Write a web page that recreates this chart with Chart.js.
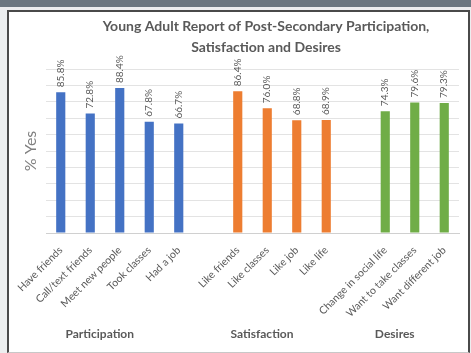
<!DOCTYPE html>
<html>
<head>
<meta charset="utf-8">
<script src="https://cdn.jsdelivr.net/npm/chart.js@4"></script>
<style>
  html, body { margin: 0; padding: 0; }
  body { width: 471px; height: 353px; background: #eceeef; position: relative; overflow: hidden; }
  #band { position: absolute; left: 0; top: 0; width: 471px; height: 7px; background: #6b7780; }
  #panel { position: absolute; left: 7px; top: 10px; width: 459px; height: 340px;
           background: #fff; border: 2px solid #4a4a4a; border-bottom: 1px solid #c8c8c8; }
  #chart-canvas { display: block; }
</style>
</head>
<body>
<div id="band"></div>
<div id="panel">
  <canvas id="chart-canvas" width="459" height="340"></canvas>
</div>
<script>
const chart = document.querySelector('#chart-canvas');

// categories (empty strings are the gaps between groups)
const categories = [
  'Have friends', 'Call/text friends', 'Meet new people', 'Took classes', 'Had a job', '',
  'Like friends', 'Like classes', 'Like job', 'Like life', '',
  'Change in social life', 'Want to take classes', 'Want different job'
];
const percentYes = [85.8, 72.8, 88.4, 67.8, 66.7, null, 86.4, 76.0, 68.8, 68.9, null, 74.3, 79.6, 79.3];
const barColors = [
  '#4472c4', '#4472c4', '#4472c4', '#4472c4', '#4472c4', '#fff',
  '#ed7d31', '#ed7d31', '#ed7d31', '#ed7d31', '#fff',
  '#70ad47', '#70ad47', '#70ad47'
];
const groupNames = ['Participation', 'Satisfaction', 'Desires'];
const groupFirst = [0, 6, 11];
const groupLast = [4, 9, 13];
const titleLines = ['Young Adult Report of Post-Secondary Participation,', 'Satisfaction and Desires'];

const textGray = '#595959';

// value labels, written upwards above each bar
const barLabels = {
  id: 'barLabels',
  afterDatasetsDraw(c) {
    const ctx = c.ctx;
    const meta = c.getDatasetMeta(0);
    ctx.save();
    ctx.font = '10px Lato';
    ctx.fillStyle = textGray;
    ctx.textAlign = 'left';
    ctx.textBaseline = 'middle';
    meta.data.forEach((bar, i) => {
      const v = percentYes[i];
      if (v === null) return;
      ctx.save();
      ctx.translate(bar.x, bar.y - 5);
      ctx.rotate(-Math.PI / 2);
      ctx.fillText(v.toFixed(1) + '%', 0, 0);
      ctx.restore();
    });
    ctx.restore();
  }
};

// chart title and the group names under the axis
const extraText = {
  id: 'extraText',
  afterDraw(c) {
    const ctx = c.ctx;
    const xs = c.scales.x;
    ctx.save();
    ctx.fillStyle = textGray;
    ctx.textAlign = 'center';
    ctx.textBaseline = 'middle';
    ctx.font = 'bold 14px Lato';
    ctx.fillText(titleLines[0], 257, 14);
    ctx.fillText(titleLines[1], 257, 35);

    ctx.font = 'bold 12px Lato';
    groupNames.forEach((name, g) => {
      const mid = (xs.getPixelForValue(groupFirst[g]) + xs.getPixelForValue(groupLast[g])) / 2;
      ctx.fillText(name, mid - 20, 322);
    });
    ctx.restore();
  }
};

let chartObject = new Chart(chart, {
  type: 'bar',
  data: {
    labels: categories,
    datasets: [{
      label: '% Yes',
      data: percentYes,
      backgroundColor: barColors,
      barPercentage: 0.31,
      categoryPercentage: 1
    }]
  },
  options: {
    responsive: false,
    animation: false,
    layout: { padding: { top: 57, right: 9, bottom: 0, left: 0 } },
    plugins: {
      legend: { display: false },
      title: { display: false },
      tooltip: { enabled: false }
    },
    scales: {
      y: {
        min: 0,
        max: 100,
        ticks: { display: false, stepSize: 10 },
        border: { display: false },
        grid: { color: '#e3e3e3', drawTicks: false },
        title: {
          display: true,
          text: '% Yes',
          color: '#7f7f7f',
          font: { family: 'Lato', size: 16 },
          padding: { top: 12, bottom: 0 }
        },
        afterFit: (s) => { s.width = 37; }
      },
      x: {
        grid: { display: false },
        border: { color: '#d0d0d0' },
        ticks: {
          color: textGray,
          font: { family: 'Lato', size: 10.5 },
          minRotation: 45,
          maxRotation: 45,
          autoSkip: false,
          padding: 3
        },
        afterFit: (s) => { s.height = 119; }
      }
    }
  },
  plugins: [barLabels, extraText]
});
</script>
</body>
</html>
